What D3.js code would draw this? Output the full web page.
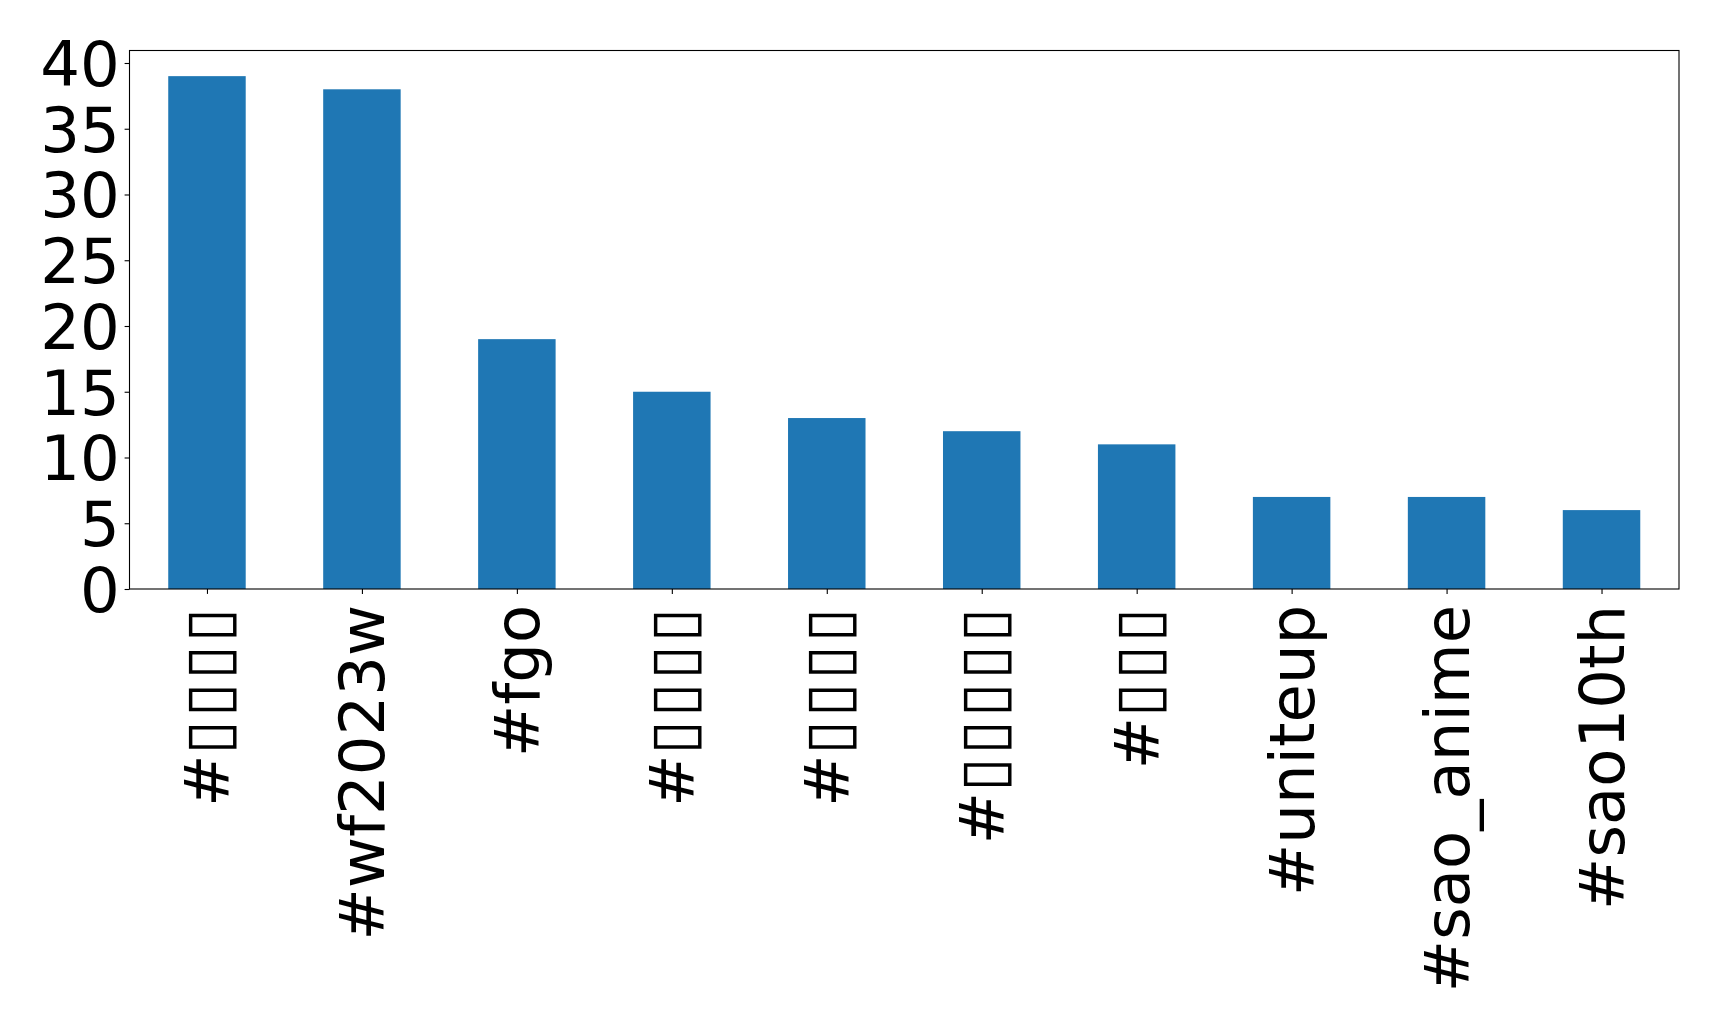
<!DOCTYPE html>
<html>
<head>
<meta charset="utf-8">
<script src="https://cdn.jsdelivr.net/npm/d3@7"></script>
<style>
  html, body { margin: 0; padding: 0; background: #fff; }
  svg { display: block; font-family: 'DejaVu Sans', sans-serif; }
</style>
</head>
<body>
<svg id="chart"></svg>
<script>
// hashtags (CJK ones came out as missing-glyph boxes in the original)
const tags = ['#\u25AF\u25AF\u25AF\u25AF', '#wf2023w', '#fgo', '#\u25AF\u25AF\u25AF\u25AF', '#\u25AF\u25AF\u25AF\u25AF',
  '#\u25AF\u25AF\u25AF\u25AF\u25AF', '#\u25AF\u25AF\u25AF', '#uniteup', '#sao_anime', '#sao10th'];
const counts = [39, 38, 19, 15, 13, 12, 11, 7, 7, 6];
const yTicks = [0, 5, 10, 15, 20, 25, 30, 35, 40];

const W = 1719, H = 1026;
const M = { top: 50.5, right: 40, bottom: 437, left: 129.5 };
const FS = 62.5;
const TICK = 4.9, PAD = 4.9;
const BAR = '#1f77b4';

const svg = d3.select('#chart').attr('width', W).attr('height', H);

const x = d3.scaleLinear().domain([-0.5, tags.length - 0.5]).range([M.left, W - M.right]);
const y = d3.scaleLinear().domain([0, d3.max(counts) * 1.05]).range([H - M.bottom, M.top]);
const bw = x(0.25) - x(-0.25);

// Bars
svg.append('g').selectAll('rect')
  .data(counts)
  .join('rect')
  .attr('x', (d, i) => x(i) - bw / 2)
  .attr('y', d => y(d))
  .attr('width', bw)
  .attr('height', d => y(0) - y(d))
  .attr('fill', BAR);

// Frame
svg.append('rect')
  .attr('x', M.left).attr('y', M.top)
  .attr('width', W - M.right - M.left).attr('height', H - M.bottom - M.top)
  .attr('fill', 'none').attr('stroke', '#000').attr('stroke-width', 1.1);

// Y axis
const yAxis = svg.append('g')
  .attr('transform', `translate(${M.left},0)`)
  .call(d3.axisLeft(y).tickValues(yTicks).tickSize(TICK).tickPadding(PAD).tickFormat(d3.format('d')));
yAxis.select('.domain').remove();
yAxis.selectAll('line').attr('stroke', '#000').attr('stroke-width', 1.1);
yAxis.selectAll('text')
  .attr('font-size', FS).attr('font-family', 'DejaVu Sans').attr('fill', '#000')
  .attr('dy', '0.36em');

// X axis
const xAxis = svg.append('g')
  .attr('transform', `translate(0,${y(0)})`)
  .call(d3.axisBottom(x).tickValues(d3.range(tags.length)).tickSize(TICK).tickFormat(i => tags[i]));
xAxis.select('.domain').remove();
xAxis.selectAll('line').attr('stroke', '#000').attr('stroke-width', 1.1);
const xt = xAxis.selectAll('text')
  .attr('font-size', FS).attr('font-family', 'DejaVu Sans').attr('fill', '#000')
  .attr('text-anchor', 'end')
  .attr('transform', `translate(0,${TICK + PAD + 6}) rotate(-90)`)
  .attr('x', 0).attr('y', 0)
  .attr('dy', '0.35em');

// box glyphs are a bit wider in the original: split into tspans, space them out
xt.each(function (i) {
  const t = d3.select(this);
  t.text(null);
  const parts = tags[i].match(/\u25AF+|[^\u25AF]+/g);
  parts.forEach(p => {
    const s = t.append('tspan').text(p);
    if (p[0] === '\u25AF') s.attr('letter-spacing', 3);
  });
});
</script>
</body>
</html>
